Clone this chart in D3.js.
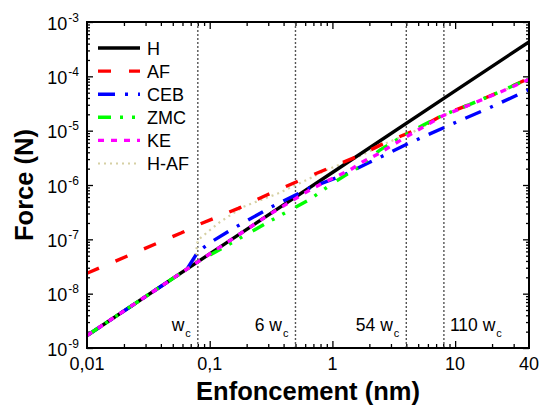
<!DOCTYPE html>
<html><head><meta charset="utf-8">
<script src="https://cdn.jsdelivr.net/npm/d3@7"></script>
<style>
body{margin:0;background:#fff}
svg{display:block}
text{font-family:"Liberation Sans",Arial,sans-serif;fill:#000}
</style>
</head><body>
<svg id="c" width="540" height="405"></svg>
<script>
// ---- data ----
const xTickValues = [0.01, 0.1, 1, 10, 40];
const xTickLabels = ["0,01", "0,1", "1", "10", "40"];
const yTickExponents = [-9, -8, -7, -6, -5, -4, -3];
const seriesNames = ["H", "AF", "CEB", "ZMC", "KE", "H-AF"];

const dH  = [0.01, 0.1, 1, 10, 40];
const fH  = [1.7e-9, 5.4e-8, 1.7e-6, 5.4e-5, 4.3e-4];

const dAF = [0.01, 0.059, 0.08, 0.171, 0.301, 0.512, 0.899, 1.58, 2.69, 4.56, 8.0, 13.2, 23.2, 40];
const fAF = [2.37e-8, 1.32e-7, 1.84e-7, 3.72e-7, 6.75e-7, 1.15e-6, 1.97e-6, 3.32e-6, 6.0e-6, 9.9e-6, 1.94e-5, 3.05e-5, 5.2e-5, 9.2e-5];

const dCEB = [0.01, 0.065, 0.08, 0.1006, 0.161, 0.32, 0.657, 1.27, 2.52, 4.29, 9.67, 19.2, 40];
const fCEB = [1.7e-9, 2.81e-8, 5.85e-8, 8.67e-8, 1.66e-7, 3.98e-7, 8.9e-7, 1.57e-6, 3.35e-6, 6.0e-6, 1.36e-5, 2.65e-5, 5.7e-5];

const dZMC = [0.01, 0.08, 0.166, 0.31, 0.657, 1.05, 1.63, 2.44, 3.67, 5.51, 8.02, 13.2, 23.2, 40];
const fZMC = [1.7e-9, 3.85e-8, 9.7e-8, 2.17e-7, 5.46e-7, 1.15e-6, 2.12e-6, 4.4e-6, 7.74e-6, 1.27e-5, 1.94e-5, 3.05e-5, 5.2e-5, 9.2e-5];

const dKE = [0.01, 0.08, 0.3, 0.633, 0.838, 1.39, 1.77, 2.35, 2.94, 4.56, 8.02, 13.2, 23.2, 40];
const fKE = [1.7e-9, 3.85e-8, 2.79e-7, 7.74e-7, 1.09e-6, 1.89e-6, 2.68e-6, 3.72e-6, 5.07e-6, 9.2e-6, 1.9e-5, 3.0e-5, 5.1e-5, 8.8e-5];

const dHAF = [0.01, 0.075, 0.08, 0.121, 0.188, 0.362, 0.618, 0.899, 1.58, 2.69, 4.56, 8.0, 13.2, 23.2, 40];
const fHAF = [1.7e-9, 3.49e-8, 9.7e-8, 2.08e-7, 3.98e-7, 7.03e-7, 1.24e-6, 1.9e-6, 3.2e-6, 5.8e-6, 9.5e-6, 1.9e-5, 3.0e-5, 5.1e-5, 9.0e-5];

const regimeX = [0.08, 0.5, 4.0, 8.1];
const regimePrefix = ["", "6 ", "54 ", "110 "];
const regimeSide = ["end", "end", "end", "start"];

// ---- layout ----
const svg = d3.select("#c");
const L = 87, R = 529, T = 22, B = 348;
const x = d3.scaleLog().domain([0.01, 40]).range([L, R]);
const y = d3.scaleLog().domain([1e-9, 1e-3]).range([B, T]);

// minor tick values
const xMinor = [];
[0.01, 0.1, 1, 10].forEach(dec => { for (let k = 2; k <= 9; k++) { const v = k * dec; if (v < 40) xMinor.push(v); } });
const xMajor = [0.1, 1, 10];
const yMajor = yTickExponents.map(e => Math.pow(10, e));
const yMinor = [];
yTickExponents.slice(0, -1).forEach(e => { for (let k = 2; k <= 9; k++) yMinor.push(k * Math.pow(10, e)); });

function axisG(gen, tx, ty) {
  const g = svg.append("g").attr("transform", `translate(${tx},${ty})`).call(gen);
  g.select(".domain").remove();
  g.selectAll("line").attr("stroke", "#000").attr("stroke-width", 1.3);
  g.selectAll("text").remove();
  return g;
}
axisG(d3.axisBottom(x).tickValues(xMajor).tickSize(-7), 0, B);
axisG(d3.axisBottom(x).tickValues(xMinor).tickSize(-4), 0, B);
axisG(d3.axisTop(x).tickValues(xMajor).tickSize(-7), 0, T);
axisG(d3.axisTop(x).tickValues(xMinor).tickSize(-4), 0, T);
axisG(d3.axisLeft(y).tickValues(yMajor).tickSize(-6), L, 0);
axisG(d3.axisLeft(y).tickValues(yMinor).tickSize(-3), L, 0);
axisG(d3.axisRight(y).tickValues(yMajor).tickSize(-6), R, 0);
axisG(d3.axisRight(y).tickValues(yMinor).tickSize(-3), R, 0);

// regime lines
svg.append("g").selectAll("line").data(regimeX).join("line")
  .attr("x1", d => x(d)).attr("x2", d => x(d)).attr("y1", T).attr("y2", B)
  .attr("stroke", "#555").attr("stroke-width", 1.4).attr("stroke-dasharray", "2,2");

const rl = svg.append("g").selectAll("text").data(regimeX).join("text")
  .attr("x", (d, i) => regimeSide[i] === "end" ? x(d) - 7 : x(d) + 6)
  .attr("y", 331).attr("font-size", 17.5)
  .attr("text-anchor", (d, i) => regimeSide[i]);
rl.each(function (d, i) {
  const t = d3.select(this);
  t.append("tspan").text(regimePrefix[i] + "w");
  t.append("tspan").attr("font-size", 11).attr("dy", 6).attr("dx", 1).text("c");
});

// series
const series = [
  { name: "H-AF", d: dHAF, f: fHAF, color: "#d6d0a4", dash: "2,4", w: 2.2 },
  { name: "H", d: dH, f: fH, color: "#000000", dash: null, w: 3.4 },
  { name: "AF", d: dAF, f: fAF, color: "#ff0000", dash: "13,18", w: 3.4 },
  { name: "CEB", d: dCEB, f: fCEB, color: "#0000ff", dash: "17,10,3,10", w: 3.4 },
  { name: "ZMC", d: dZMC, f: fZMC, color: "#00ff00", dash: "13,9,3,9,3,12", w: 3.4 },
  { name: "KE", d: dKE, f: fKE, color: "#ff00ff", dash: "6,7", w: 3.4 }
];
const line = d3.line().x(p => x(p[0])).y(p => y(p[1])).curve(d3.curveLinear);
svg.append("defs").append("clipPath").attr("id", "clip")
  .append("rect").attr("x", L).attr("y", T).attr("width", R - L).attr("height", B - T);
const pg = svg.append("g").attr("clip-path", "url(#clip)");
series.forEach(s => {
  pg.append("path").datum(s.d.map((v, i) => [v, s.f[i]]))
    .attr("d", line).attr("fill", "none").attr("stroke", s.color)
    .attr("stroke-width", s.w).attr("stroke-dasharray", s.dash);
});

// frame
svg.append("rect").attr("x", L).attr("y", T).attr("width", R - L).attr("height", B - T)
  .attr("fill", "none").attr("stroke", "#000").attr("stroke-width", 2);

// tick labels
svg.append("g").selectAll("text").data(xTickValues).join("text")
  .attr("x", d => x(d)).attr("y", 370).attr("text-anchor", "middle").attr("font-size", 18)
  .text((d, i) => xTickLabels[i]);
const yl = svg.append("g").selectAll("text").data(yTickExponents).join("text")
  .attr("x", 79).attr("y", e => y(Math.pow(10, e)) + 7.5).attr("text-anchor", "end").attr("font-size", 18);
yl.each(function (e) {
  const t = d3.select(this);
  t.append("tspan").text("10");
  t.append("tspan").attr("font-size", 12).attr("dy", -8).attr("dx", 1).text(String(e));
});

// axis titles
svg.append("text").attr("x", 308).attr("y", 400).attr("text-anchor", "middle")
  .attr("font-size", 25.5).attr("font-weight", "bold").text("Enfoncement (nm)");
svg.append("text").attr("transform", "translate(33,185) rotate(-90)").attr("text-anchor", "middle")
  .attr("font-size", 25.5).attr("font-weight", "bold").text("Force (N)");

// legend
const legOrder = seriesNames.map(n => series.find(s => s.name === n));
const lg = svg.append("g");
legOrder.forEach((s, i) => {
  const yy = 48 + i * 23.1;
  lg.append("line").attr("x1", 98).attr("x2", 140).attr("y1", yy).attr("y2", yy)
    .attr("stroke", s.color).attr("stroke-width", s.w).attr("stroke-dasharray", s.dash);
  lg.append("text").attr("x", 147).attr("y", yy + 6.5).attr("font-size", 18).text(s.name);
});
</script>
</body></html>
